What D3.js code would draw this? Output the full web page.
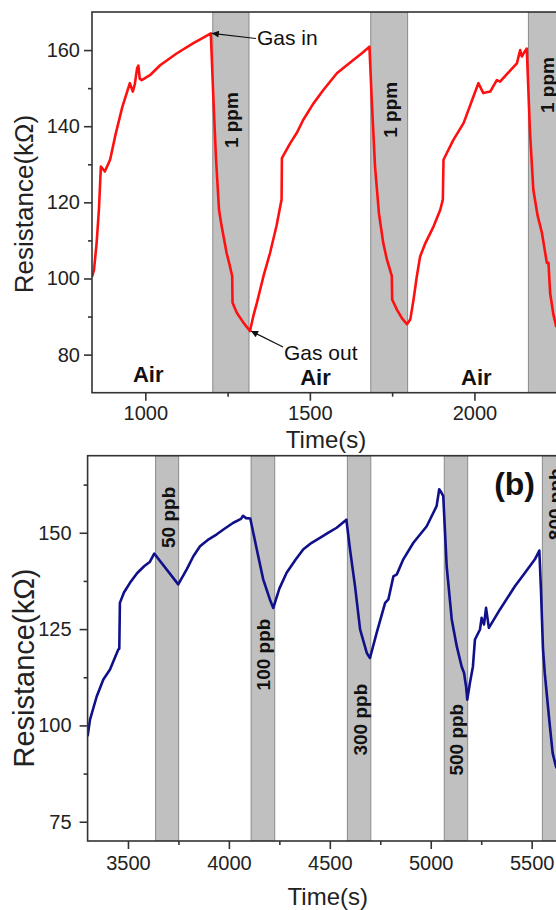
<!DOCTYPE html>
<html><head><meta charset="utf-8">
<script src="https://cdn.jsdelivr.net/npm/d3@7"></script>
<style>
html,body{margin:0;padding:0;background:#fff;}
svg{display:block;font-family:"Liberation Sans",Arial,sans-serif;}
</style></head>
<body>
<svg id="chart" width="556" height="910"></svg>
<script>
// ---------- Data ----------
// Panel (a): time (s) and resistance (kΩ)
const timeA = [838,844,852,859,865,877,893,910,930,953,962,968,975,979,983,989,1014,1045,1095,1146,1175,1199,
  1207,1215,1224,1232,1247,1256,1264,1265,1278,1298,1318,
  1328,1339,1359,1379,1399,1409,1414,1415,1440,1460,1480,1511,1541,1582,1632,1660,1681,
  1688,1698,1710,1723,1734,1749,1750,1764,1780,1795,
  1805,1815,1825,1835,1851,1876,1896,1904,1906,1936,1967,1997,2012,2027,2048,2068,2078,2100,2129,2139,2144,2152,2159,
  2169,2179,2192,2205,2220,2225,2230,2240,2248,2262];
const resA = [100.4,102.2,109.3,118,129.4,128.1,131.2,138,145,151.3,149.1,151,155.2,155.9,152.5,152.1,153.4,156,159.1,161.8,163.2,164.4,
  146.9,131.2,118,113.7,106.7,103.6,100.6,93.6,91,88.4,86.2,
  90.1,93.6,100.6,106.7,114,118.5,120.7,131.6,135.5,138.2,141.7,146,149.5,153.9,157.4,159.3,160.9,
  146.9,129.4,117,109.3,105,100.6,94.5,91.9,89.5,88,
  89.2,94.5,100.6,105.8,109.3,113.7,118,120.7,131.2,136.4,140.8,147.8,151.3,148.7,149.1,152.1,151.7,153.8,156.5,160,158.3,159.5,160.4,
  138.2,123.3,116.5,112,104.1,104.1,96.2,90.5,87.5,86.3];
// Panel (b)
const timeB = [3300,3312,3345,3378,3411,3452,3457,3460,3480,3510,3545,3580,3609,3630,3749,3791,3824,3857,3900,3940,3980,4022,4060,4070,4085,4106,
  4138,4170,4203,4220,4250,4286,4330,4369,4410,4451,4495,4534,4582,4600,4625,4650,4683,4699,
  4732,4774,4790,4815,4832,4864,4914,4980,5029,5042,5052,5062,
  5079,5104,5129,5153,5165,5175,5181,5194,5209,5219,5244,5252,5264,5274,5288,5343,5417,5467,5516,5538,
  5546,5556,5565,5587,5604,5620,5640];
const resB = [97.2,101.5,107.5,111.9,114.5,119.7,119.9,131.8,134.5,137,139.5,141.3,142.5,144.6,136.6,140.5,143.9,146.5,148.3,149.6,151.1,152.6,153.6,154.4,153.8,153.7,
  145.7,137.9,132.7,130.5,135.5,139.6,143,145.7,147.4,148.7,150.1,151.3,153.4,145.7,136.1,124.9,118.8,117.5,
  124,131.8,132.7,138.7,139.2,143.1,147.4,151.7,156.9,161.3,160.5,159.5,
  141.3,127.5,120.5,115.3,113.6,110.1,106.7,111,115.3,122.3,124.9,127.9,126.2,130.5,125.3,130.1,136.1,139.6,143.1,145.4,
  135.2,120,113.5,101.5,92.8,89.4,87.5];

// Gas exposure windows [start, end] (s) and labels
const bandsA = [[1205,1315],[1685,1797],[2164,2276]];
const bandLabelsA = ["1 ppm","1 ppm","1 ppm"];
const bandLabelYA = [141.6,144.3,150.8];
const bandsB = [[3637,3751],[4110,4227],[4587,4703],[5067,5183],[5553,5670]];
const bandLabelsB = ["50 ppb","100 ppb","300 ppb","500 ppb","800 ppb"];
const bandLabelYB = [154,118.4,101.5,96.3,157.4];

// Air labels (time positions, resistance baseline)
const airTimes = [1009,1517,2006];
const airRes = [72.9,72,72];

// Tick values
const xTicksA = [1000,1500,2000], xMinorA = [1250,1750,2250];
const yTicksA = [80,100,120,140,160], yMinorA = [90,110,130,150];
const xTicksB = [3500,4000,4500,5000,5500], xMinorB = [3750,4250,4750,5250];
const yTicksB = [75,100,125,150], yMinorB = [87.5,112.5,137.5,162.5];

// ---------- Drawing ----------
const svg = d3.select("#chart");
const axisColor = "#333";

const defs = svg.append("defs");
defs.append("marker").attr("id","arrow").attr("viewBox","0 0 10 10")
  .attr("refX",10).attr("refY",5).attr("markerWidth",9).attr("markerHeight",7)
  .attr("markerUnits","userSpaceOnUse").attr("orient","auto")
  .append("path").attr("d","M0,0 L10,5 L0,10 z").attr("fill","#111");

function panel(cfg){
  const {id,x,y,times,res,color,bands,bandLabels,bandLabelY,xTicks,xMinor,yTicks,yMinor,yLabelSize,yLabelX,yLabelCY,xLabelY,yTickPad,xTickPad} = cfg;
  const [x0,x1] = x.range(), [yb,yt] = y.range();
  defs.append("clipPath").attr("id","clip"+id).append("rect")
    .attr("x",x0).attr("y",yt).attr("width",x1-x0).attr("height",yb-yt);
  const g = svg.append("g");
  const inner = g.append("g").attr("clip-path",`url(#clip${id})`);
  inner.selectAll("rect.band").data(bands).join("rect").attr("class","band")
    .attr("x",d=>x(d[0])).attr("width",d=>x(d[1])-x(d[0]))
    .attr("y",yt).attr("height",yb-yt)
    .attr("fill","#c0c0c0").attr("stroke","#8a8a8a").attr("stroke-width",1);
  inner.selectAll("text.bl").data(bands).join("text").attr("class","bl")
    .attr("transform",(d,i)=>`translate(${x((d[0]+d[1])/2)+1},${y(bandLabelY[i])}) rotate(-90)`)
    .attr("text-anchor","middle").attr("dominant-baseline","central")
    .attr("font-weight","bold").attr("font-size",19).attr("fill","#111")
    .text((d,i)=>bandLabels[i]);
  const pts = times.map((t,i)=>[t,res[i]]);
  inner.append("path").datum(pts)
    .attr("d",d3.line().x(d=>x(d[0])).y(d=>y(d[1])))
    .attr("fill","none").attr("stroke",color).attr("stroke-width",2.6)
    .attr("stroke-linejoin","round");
  g.append("rect").attr("x",x0).attr("y",yt).attr("width",x1-x0).attr("height",yb-yt)
    .attr("fill","none").attr("stroke",axisColor).attr("stroke-width",1.6);
  const style = sel => {
    sel.select(".domain").remove();
    sel.selectAll(".tick line").attr("stroke",axisColor).attr("stroke-width",1.6);
    sel.selectAll(".tick text").attr("font-size",20).attr("fill","#222")
      .attr("font-family","'Liberation Sans',Arial,sans-serif");
  };
  g.append("g").attr("transform",`translate(0,${yb})`)
    .call(d3.axisBottom(x).tickValues(xTicks).tickSize(8).tickPadding(xTickPad).tickFormat(d3.format("d"))).call(style);
  g.append("g").attr("transform",`translate(0,${yb})`)
    .call(d3.axisBottom(x).tickValues(xMinor).tickSize(4).tickFormat("")).call(style);
  g.append("g").attr("transform",`translate(${x0},0)`)
    .call(d3.axisLeft(y).tickValues(yTicks).tickSize(8).tickPadding(yTickPad).tickFormat(d3.format("d"))).call(style);
  g.append("g").attr("transform",`translate(${x0},0)`)
    .call(d3.axisLeft(y).tickValues(yMinor).tickSize(4).tickFormat("")).call(style);
  g.append("text").attr("transform",`translate(${yLabelX},${yLabelCY}) rotate(-90)`)
    .attr("text-anchor","middle").attr("font-size",yLabelSize).attr("fill","#222").text("Resistance(kΩ)");
  g.append("text").attr("x",(x0+x1)/2).attr("y",xLabelY)
    .attr("text-anchor","middle").attr("font-size",24).attr("fill","#222").text("Time(s)");
  return g;
}

const xA = d3.scaleLinear().domain([838,2260]).range([92,560]);
const yA = d3.scaleLinear().domain([70,170]).range([392.7,12]);
const gA = panel({id:"A",x:xA,y:yA,times:timeA,res:resA,color:"#ff1010",bands:bandsA,bandLabels:bandLabelsA,bandLabelY:bandLabelYA,
  xTicks:xTicksA,xMinor:xMinorA,yTicks:yTicksA,yMinor:yMinorA,yLabelSize:26,yLabelX:33,yLabelCY:204,xLabelY:448,yTickPad:4,xTickPad:5});

const xB = d3.scaleLinear().domain([3300,5680]).range([87.6,568]);
const yB = d3.scaleLinear().domain([70,170]).range([841,455.7]);
const gB = panel({id:"B",x:xB,y:yB,times:timeB,res:resB,color:"#10108a",bands:bandsB,bandLabels:bandLabelsB,bandLabelY:bandLabelYB,
  xTicks:xTicksB,xMinor:xMinorB,yTicks:yTicksB,yMinor:yMinorB,yLabelSize:29,yLabelX:34,yLabelCY:668,xLabelY:905,yTickPad:8,xTickPad:7});

gA.selectAll("text.air").data(airTimes).join("text").attr("class","air")
  .attr("x",d=>xA(d)).attr("y",(d,i)=>yA(airRes[i]))
  .attr("text-anchor","middle").attr("font-weight","bold").attr("font-size",22).attr("fill","#111").text("Air");

const peakIdx = timeA.indexOf(1199), minIdx = timeA.indexOf(1318);
gA.append("line").attr("x1",256).attr("y1",38.5)
  .attr("x2",xA(timeA[peakIdx])+1).attr("y2",yA(resA[peakIdx]))
  .attr("stroke","#111").attr("stroke-width",1.2).attr("marker-end","url(#arrow)");
gA.append("text").attr("x",257).attr("y",45).attr("font-size",21).attr("fill","#111").text("Gas in");
gA.append("line").attr("x1",283).attr("y1",347)
  .attr("x2",xA(timeA[minIdx])+1).attr("y2",yA(resA[minIdx]))
  .attr("stroke","#111").attr("stroke-width",1.2).attr("marker-end","url(#arrow)");
gA.append("text").attr("x",284).attr("y",360).attr("font-size",21).attr("fill","#111").text("Gas out");

gB.append("text").attr("x",535).attr("y",495).attr("text-anchor","end")
  .attr("font-weight","bold").attr("font-size",32).attr("fill","#111").text("(b)");
</script>
</body></html>
